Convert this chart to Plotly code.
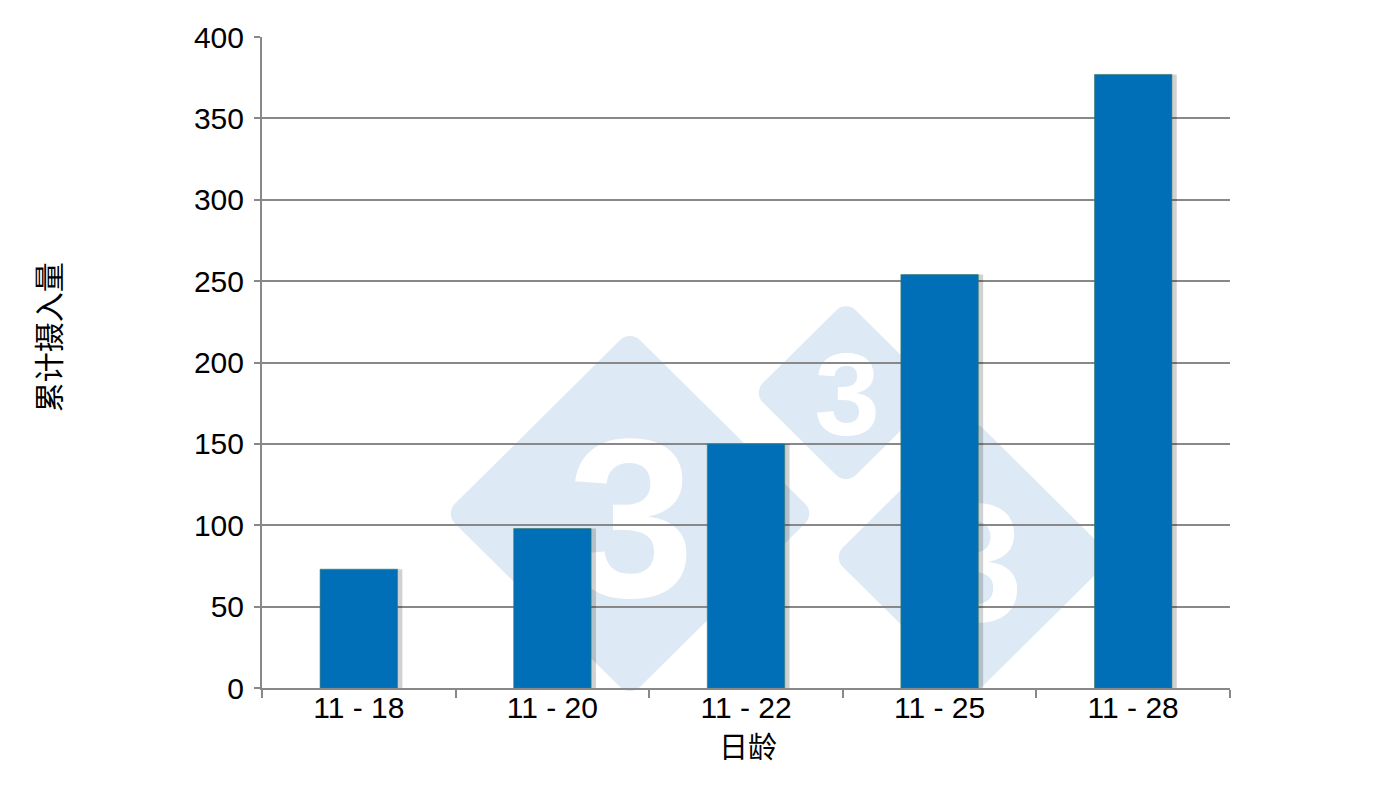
import base64
import plotly.graph_objects as go

# ---- data ----
categories = ["11 - 18", "11 - 20", "11 - 22", "11 - 25", "11 - 28"]
values = [73, 98, 150, 254, 377]
y_tick_values = [0, 50, 100, 150, 200, 250, 300, 350, 400]
x_title = "日龄"
y_title = "累计摄入量"

# ---- geometry helpers (page pixel -> paper) ----
W, H = 1400, 788
OFF = 8  # page body margin offset
L, R, T, B = 262, 1230, 31, 688   # plot area in page pixels
PW, PH = R - L, B - T


def px(x):
    return (x - L) / PW


def py(y):
    return (B - y) / PH


def watermark_svg(half, fs, dx, dy):
    size = 2 * half
    c = half
    s = half * 2 ** 0.5
    base = c + dy + 0.358 * fs
    svg = (
        f'<svg xmlns="http://www.w3.org/2000/svg" width="{size}" height="{size}" '
        f'viewBox="0 0 {size} {size}">'
        f'<rect x="{c - s / 2}" y="{c - s / 2}" width="{s}" height="{s}" rx="14" ry="14" '
        f'fill="#dde9f4" transform="rotate(45 {c} {c})"/>'
        f'<text x="{c + dx}" y="{base}" font-family="Liberation Sans, Arial" font-weight="bold" '
        f'font-size="{fs}" text-anchor="middle" fill="#ffffff">3</text>'
        f'</svg>'
    )
    return "data:image/svg+xml;base64," + base64.b64encode(svg.encode()).decode()


images = []
# (center x, center y, half diagonal, font size, text dx, text dy) in page pixels
for cx, cy, half, fs, dx, dy in [(630, 512, 185, 229, 1, 1),
                                 (846, 390, 93, 118, 1, 0),
                                 (973, 556, 140, 170, 3, 4)]:
    images.append(dict(source=watermark_svg(half, fs, dx, dy), xref="paper", yref="paper",
                       x=px(cx - half), y=py(cy - half), sizex=2 * half / PW, sizey=2 * half / PH,
                       xanchor="left", yanchor="top", sizing="stretch", layer="below"))

font_family = "Liberation Sans, Arial, Noto Sans CJK SC"
annotations = [
    dict(text=y_title, x=px(47), y=py(334), xref="paper", yref="paper",
         showarrow=False, textangle=-90, xanchor="center", yanchor="middle",
         font=dict(family="Noto Sans CJK SC", size=30, color="black")),
    dict(text=x_title, x=px(748), y=py(746), xref="paper", yref="paper",
         showarrow=False, xanchor="center", yanchor="middle",
         font=dict(family="Noto Sans CJK SC", size=29, color="black")),
]

fig = go.Figure()
# subtle shadow behind bars
fig.add_trace(go.Bar(x=categories, y=values, width=0.4, offset=-0.2 + 0.025,
                     marker=dict(color="rgba(0,0,0,0.18)", line=dict(width=0)),
                     hoverinfo="skip", showlegend=False))
fig.add_trace(go.Bar(x=categories, y=values, width=0.4, offset=-0.2,
                     marker=dict(color="#006fb7", line=dict(color="#3d7a6a", width=0.6)),
                     showlegend=False))

fig.update_layout(
    width=W, height=H,
    margin=dict(l=L - OFF, r=W - R + OFF, t=T - OFF, b=H - B + OFF, pad=0),
    paper_bgcolor="white", plot_bgcolor="rgba(0,0,0,0)",
    barmode="overlay",
    images=images, annotations=annotations,
    font=dict(family=font_family, size=30, color="black"),
    showlegend=False,
)
fig.update_xaxes(
    type="category", tickson="boundaries", ticks="outside", ticklen=8, tickwidth=2,
    tickcolor="#888888", showline=True, linecolor="#888888", linewidth=2,
    showgrid=False, tickfont=dict(size=30, family=font_family), ticklabelstandoff=-8,
)
fig.update_yaxes(
    range=[0, 400], tickvals=y_tick_values, ticks="outside", ticklen=6, tickwidth=2,
    tickcolor="#888888", showline=True, linecolor="#888888", linewidth=2,
    showgrid=True, gridcolor="#888888", gridwidth=2, zeroline=False,
    tickfont=dict(size=30, family=font_family), ticklabelstandoff=4,
)

fig.write_html("out.html")
